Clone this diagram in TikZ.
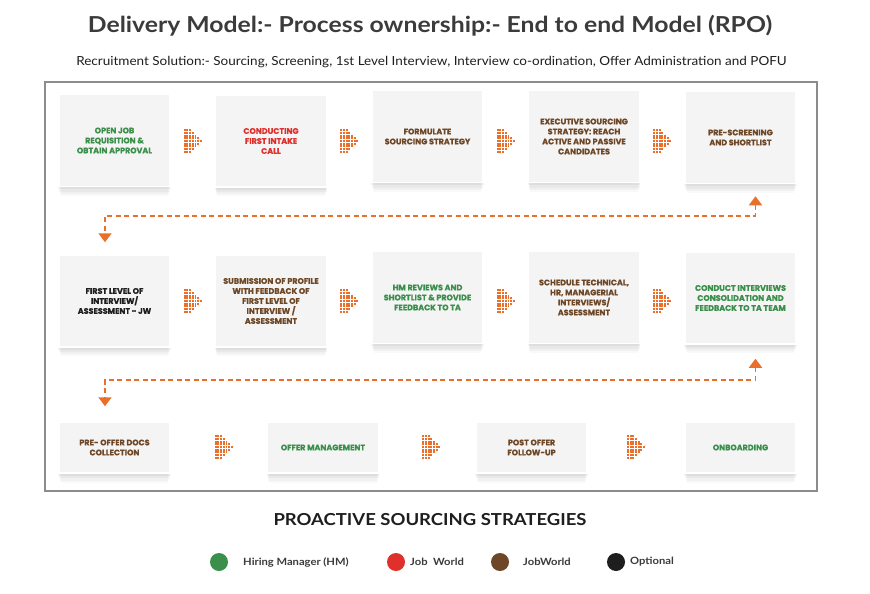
\documentclass[tikz,border=0pt]{standalone}
\usepackage{fontspec}
\setmainfont{Lato}
\newfontfamily\boxfont{Poppins}[BoldFeatures={FakeBold=0.6}]
\usetikzlibrary{arrows.meta,shadows,calc}

\definecolor{hmgreen}{HTML}{3A8F4A}
\definecolor{jwred}{HTML}{E0302C}
\definecolor{jwbrown}{HTML}{6E4726}
\definecolor{optblack}{HTML}{1E1E1E}
\definecolor{dotorange}{HTML}{EA6F2A}
\definecolor{boxfill}{HTML}{F4F4F4}
\definecolor{framegray}{HTML}{8C8C8C}
\definecolor{titlegray}{HTML}{3B3B3B}

\tikzset{
 softshadow/.style={
   general shadow={fill=black, opacity=0.025, shadow yshift=-11pt, shadow scale=0.97},
   general shadow={fill=black, opacity=0.03, shadow yshift=-8pt, shadow scale=0.985},
   general shadow={fill=black, opacity=0.035, shadow yshift=-5pt, shadow scale=1.0},
   general shadow={fill=black, opacity=0.04, shadow yshift=-2.5pt, shadow scale=1.01}},
 stepbox/.style={draw=white, line width=1.5pt, fill=boxfill, minimum width=111pt, minimum height=92pt,
   align=center, font=\boxfont\bfseries\fontsize{8}{10}\selectfont, inner sep=2pt, softshadow},
 shortbox/.style={stepbox, minimum height=51pt},
 dashcon/.style={draw=dotorange, line width=1.8pt, dash pattern=on 5pt off 3.5pt,
   {Triangle[width=13pt,length=9pt]}-{Triangle[width=13pt,length=9pt]}},
 dotarr/.pic={
   \foreach \c/\h in {0/9,1/9,2/9,3/7,4/5,5/3,6/1}{
     \foreach \r in {1,...,\h}{
       \fill[dotorange] ({(\c-3)*2.7-0.95},{(\r-(\h+1)/2)*2.7-0.95}) rectangle ++(1.9,1.9);
     }
   }
 },
 legdot/.style={circle, minimum size=18pt, inner sep=0pt},
 legtext/.style={anchor=west, font=\bfseries\fontsize{10}{12}\selectfont, text=titlegray, inner sep=0pt},
}

\begin{document}
\begin{tikzpicture}[x=1pt,y=-1pt]
\fill[white] (0,0) rectangle (870,594);
\useasboundingbox (0,0) rectangle (870,594);

% titles
\node[font=\bfseries\fontsize{22}{26}\selectfont, text=titlegray] (title) at (430,26)
  {\scalebox{1.125}[1]{Delivery Model:- Process ownership:- End to end Model (RPO)}};
\node[font=\fontsize{12.5}{15}\selectfont, text=optblack] (subtitle) at (431.5,62)
  {\scalebox{1.08}[1]{Recruitment Solution:- Sourcing, Screening, 1st Level Interview, Interview co-ordination, Offer Administration and POFU}};

% frame
\draw[framegray, line width=1.3pt] (45,82) rectangle (817,491);

% row 1
\node[stepbox, text=hmgreen] (b1) at (114.5,140.5) {OPEN JOB\\REQUISITION \&\\OBTAIN APPROVAL};
\node[stepbox, text=jwred] (b2) at (271,141) {CONDUCTING\\FIRST INTAKE\\CALL};
\node[stepbox, text=jwbrown] (b3) at (427.5,136.5) {FORMULATE\\SOURCING STRATEGY};
\node[stepbox, text=jwbrown] (b4) at (584,136.5) {EXECUTIVE SOURCING\\STRATEGY: REACH\\ACTIVE AND PASSIVE\\CANDIDATES};
\node[stepbox, text=jwbrown] (b5) at (740.5,137.5) {PRE-SCREENING\\AND SHORTLIST};

% row 2
\node[stepbox, text=optblack] (b6) at (114.5,301) {FIRST LEVEL OF\\INTERVIEW/\\ASSESSMENT - JW};
\node[stepbox, text=jwbrown] (b7) at (271,301) {SUBMISSION OF PROFILE\\WITH FEEDBACK OF\\FIRST LEVEL OF\\INTERVIEW /\\ASSESSMENT};
\node[stepbox, text=hmgreen] (b8) at (427.5,297.5) {HM REVIEWS AND\\SHORTLIST \& PROVIDE\\FEEDBACK TO TA};
\node[stepbox, text=jwbrown] (b9) at (584,297.5) {SCHEDULE TECHNICAL,\\HR, MANAGERIAL\\INTERVIEWS/\\ASSESSMENT};
\node[stepbox, text=hmgreen] (b10) at (740.5,298) {CONDUCT INTERVIEWS\\CONSOLIDATION AND\\FEEDBACK TO TA TEAM};

% row 3
\node[shortbox, text=jwbrown] (b11) at (114.5,447.5) {PRE- OFFER DOCS\\COLLECTION};
\node[shortbox, text=hmgreen] (b12) at (323,447.5) {OFFER MANAGEMENT};
\node[shortbox, text=jwbrown] (b13) at (531.5,447.5) {POST OFFER\\FOLLOW-UP};
\node[shortbox, text=hmgreen] (b14) at (740.5,447.5) {ONBOARDING};

% row levels
\coordinate (r1) at (0,141);
\coordinate (r2) at (0,301);
\coordinate (r3) at (0,447);

% dotted arrows
\coordinate (m12) at ($(b1.east)!.5!(b2.west)$);
\coordinate (m23) at ($(b2.east)!.5!(b3.west)$);
\coordinate (m34) at ($(b3.east)!.5!(b4.west)$);
\coordinate (m45) at ($(b4.east)!.5!(b5.west)$);
\coordinate (m67) at ($(b6.east)!.5!(b7.west)$);
\coordinate (m78) at ($(b7.east)!.5!(b8.west)$);
\coordinate (m89) at ($(b8.east)!.5!(b9.west)$);
\coordinate (m910) at ($(b9.east)!.5!(b10.west)$);
\coordinate (m1112) at ($(b11.east)!.5!(b12.west)$);
\coordinate (m1213) at ($(b12.east)!.5!(b13.west)$);
\coordinate (m1314) at ($(b13.east)!.5!(b14.west)$);
\foreach \m in {m12,m23,m34,m45}{ \pic at (\m |- r1) {dotarr}; }
\foreach \m in {m67,m78,m89,m910}{ \pic at (\m |- r2) {dotarr}; }
\pic at ([xshift=5pt]m1112 |- r3) {dotarr};
\pic at ([xshift=4pt]m1213 |- r3) {dotarr};
\pic at (m1314 |- r3) {dotarr};

% dashed return connectors
\coordinate (h1) at (430,216);
\coordinate (h2) at (430,380);
\draw[dashcon] ([xshift=15pt,yshift=-12pt]b5.south) |- (h1) -| ([xshift=-9.5pt,yshift=12pt]b6.north);
\draw[dashcon] ([xshift=15pt,yshift=-14pt]b10.south) |- (h2) -| ([xshift=-9.5pt,yshift=15pt]b11.north);

% heading
\node[font=\bfseries\fontsize{16.5}{20}\selectfont, text=optblack] (heading) at (430,520)
  {\scalebox{1.12}[1]{PROACTIVE SOURCING STRATEGIES}};

% legend
\node[legdot, fill=hmgreen] (d1) at (219,562) {};
\node[legdot, fill=jwred] (d2) at (396,562) {};
\node[legdot, fill=jwbrown] (d3) at (500,562) {};
\node[legdot, fill=optblack] (d4) at (616,562) {};
\node[legtext] (t1) at (243,562) {\scalebox{1.12}[1]{Hiring Manager (HM)}};
\node[legtext] (t2) at (410,562) {\scalebox{1.12}[1]{Job~ World}};
\node[legtext] (t3) at (523,562) {\scalebox{1.12}[1]{JobWorld}};
\node[legtext] (t4) at (630,562) {\scalebox{1.12}[1]{Optional}};
\end{tikzpicture}
\end{document}
